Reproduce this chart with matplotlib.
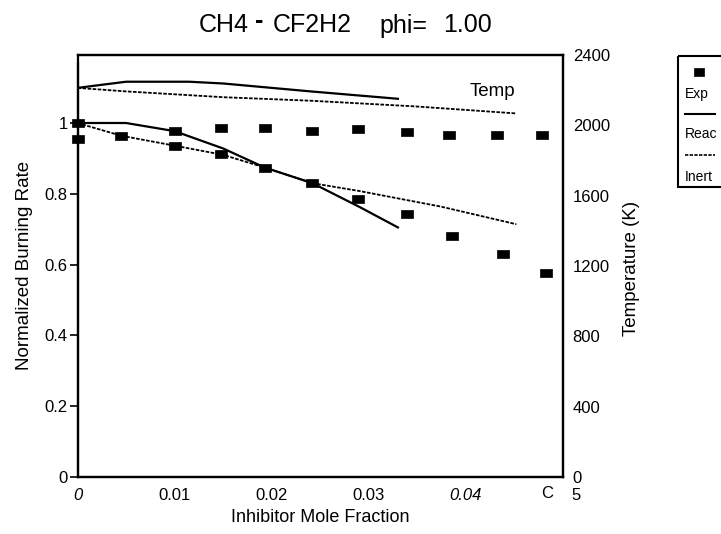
import matplotlib
matplotlib.use("Agg")
import matplotlib.pyplot as plt
from matplotlib.patches import Rectangle

plt.rcParams["font.family"] = ["Liberation Sans", "DejaVu Sans"]

# experimental points (normalized burning rate)
exp_low_x = [0.0, 0.0045, 0.0100, 0.0148, 0.0193, 0.0242, 0.0289, 0.0339, 0.0386, 0.0438, 0.0482]
exp_low_y = [1.000, 0.964, 0.936, 0.912, 0.874, 0.830, 0.785, 0.742, 0.681, 0.630, 0.575]
exp_high_x = [0.0, 0.0100, 0.0148, 0.0193, 0.0242, 0.0289, 0.0339, 0.0383, 0.0432, 0.0478]
exp_high_y = [0.954, 0.977, 0.985, 0.985, 0.978, 0.982, 0.974, 0.966, 0.966, 0.966]

# model: reactive inhibitor (solid) and inert (dashed), burning rate
reac_x = [0.0, 0.005, 0.010, 0.015, 0.0193, 0.0242, 0.0291, 0.033]
reac_y = [1.000, 1.000, 0.977, 0.928, 0.874, 0.830, 0.762, 0.705]
inert_x = [0.0, 0.0045, 0.010, 0.015, 0.0193, 0.0242, 0.029, 0.0374, 0.0452]
inert_y = [1.000, 0.964, 0.936, 0.910, 0.874, 0.830, 0.808, 0.764, 0.714]

# model flame temperature (K)
reac_temp_x = [0.0, 0.005, 0.0115, 0.015, 0.019, 0.024, 0.033]
reac_temp = [2213, 2248, 2248, 2238, 2218, 2193, 2151]
inert_temp_x = [0.0, 0.005, 0.015, 0.024, 0.0347, 0.0451]
inert_temp = [2213, 2193, 2160, 2140, 2108, 2068]

left_ticks = [0, 0.2, 0.4, 0.6, 0.8, 1.0]
left_labels = ["0", "0.2", "0.4", "0.6", "0.8", "1"]
right_ticks = [0, 400, 800, 1200, 1600, 2000, 2400]
right_labels = ["0", "400", "800", "1200", "1600", "2000", "2400"]
x_ticks = [0, 0.01, 0.02, 0.03, 0.04, 0.05]
x_labels = ["0", "0.01", "0.02", "0.03", "0.04", ""]

W, H = 721, 534
fig = plt.figure(figsize=(W / 100, H / 100), dpi=100)
ax = fig.add_axes([77.5 / W, 1 - 477 / H, (563 - 77.5) / W, (477 - 55) / H])
ax2 = ax.twinx()

# slightly flat square marker like the original
box = [(-1, -0.76), (1, -0.76), (1, 0.76), (-1, 0.76), (-1, -0.76)]
dash = (0, (2.0, 0.8))

ax.plot(reac_x, reac_y, color="black", lw=1.6)
ax.plot(inert_x, inert_y, color="black", lw=1.3, linestyle=dash)
ax.plot(exp_low_x, exp_low_y, marker=box, ls="none", color="black", ms=8.2, mew=0.5, clip_on=False)
ax.plot(exp_high_x, exp_high_y, marker=box, ls="none", color="black", ms=8.2, mew=0.5, clip_on=False)

ax2.plot(reac_temp_x, reac_temp, color="black", lw=1.6)
ax2.plot(inert_temp_x, inert_temp, color="black", lw=1.3, linestyle=dash)
ax2.text(0.0427, 2190, "Temp", ha="center", va="center", fontsize=13.5)

ax.set_xlim(0, 0.05)
ax.set_ylim(0, 422 / 354)
ax2.set_ylim(0, 2400)

ax.set_xticks(x_ticks)
ax.set_xticklabels(x_labels, fontsize=12)
ax.set_yticks(left_ticks)
ax.set_yticklabels(left_labels, fontsize=12)
ax2.set_yticks(right_ticks)
ax2.set_yticklabels(right_labels, fontsize=12)
for i in (0, 4):
    ax.get_xticklabels()[i].set_fontstyle("italic")

ax.tick_params(axis="x", length=0, pad=8)
ax.tick_params(axis="y", length=6, width=1.2, pad=1)
ax2.tick_params(axis="y", length=0, pad=7)

for a in (ax, ax2):
    for s in a.spines.values():
        s.set_linewidth(1.6)
ax.spines["left"].set_bounds(0, 1.169)

# clipped 0.05 label remnants
fig.text(547 / W, 1 - 493 / H, "C", ha="center", va="center", fontsize=12)
fig.text(576 / W, 1 - 496 / H, "5", ha="center", va="center", fontsize=12)

# title, laid out in pieces like the original spacing
ty = 1 - 25.5 / H
fig.text(199 / W, ty, "CH4", ha="left", va="center", fontsize=18)
fig.text(259 / W, 1 - 21 / H, "-", ha="center", va="center", fontsize=18, fontweight="bold")
fig.text(273 / W, ty, "CF2H2", ha="left", va="center", fontsize=18)
fig.text(379 / W, ty, "phi=", ha="left", va="center", fontsize=18)
fig.text(492 / W, ty, "1.00", ha="right", va="center", fontsize=18)

fig.text(320 / W, 1 - 518 / H, "Inhibitor Mole Fraction", ha="center", va="center", fontsize=13)
fig.text(25 / W, 1 - 265 / H, "Normalized Burning Rate", ha="center", va="center", rotation=90, fontsize=13.5)
fig.text(632 / W, 1 - 268 / H, "Temperature (K)", ha="center", va="center", rotation=90, fontsize=13.5)

# hand-drawn legend box at the right edge
lax = fig.add_axes([0, 0, 1, 1])
lax.set_xlim(0, W)
lax.set_ylim(H, 0)
lax.axis("off")
lax.add_patch(Rectangle((678, 56), 60, 131, fill=False, lw=1.5, edgecolor="black"))
lax.plot([699], [71.5], marker=box, ls="none", color="black", ms=7, mew=0.5)
lax.text(685, 93.7, "Exp", va="center", fontsize=10)
lax.plot([685, 715], [114, 114], color="black", lw=1.5)
lax.text(685, 134.5, "Reac", va="center", fontsize=10)
lax.plot([685, 715], [155, 155], color="black", lw=1.2, linestyle=dash)
lax.text(685, 177, "Inert", va="center", fontsize=10)

fig.savefig("out.png", dpi=100)
